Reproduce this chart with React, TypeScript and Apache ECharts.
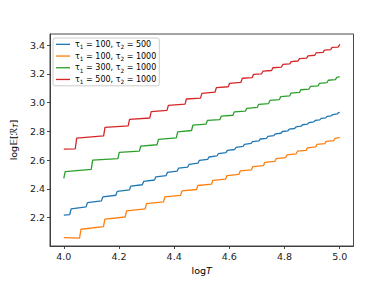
import React, { useEffect, useRef } from "react";
import * as echarts from "echarts";

const xTicks = [4.0, 4.2, 4.4, 4.6, 4.8, 5.0];
const yTicks = [2.2, 2.4, 2.6, 2.8, 3.0, 3.2, 3.4];
const seriesNames = [
  "τ1 = 100, τ2 = 500",
  "τ1 = 100, τ2 = 1000",
  "τ1 = 300, τ2 = 1000",
  "τ1 = 500, τ2 = 1000",
];
const colors = ["#1f77b4", "#ff7f0e", "#2ca02c", "#d62728"];

// log T where each step jumps, level just before and just after each jump
const blueStart = 2.218;
const blueEnd = 2.932;
const blueJumps = [4.0214, 4.0808, 4.1364, 4.1886, 4.2379, 4.2845, 4.3287, 4.3708, 4.411, 4.4493, 4.4861, 4.5213, 4.5552, 4.5878, 4.6193, 4.6496, 4.6789, 4.7073, 4.7347, 4.7613, 4.7872, 4.8122, 4.8366, 4.8603, 4.8834, 4.9059, 4.9278, 4.9492, 4.97, 4.9904];
const blueBefore = [2.222, 2.275, 2.317, 2.356, 2.394, 2.429, 2.462, 2.493, 2.524, 2.552, 2.579, 2.605, 2.629, 2.652, 2.674, 2.695, 2.716, 2.734, 2.752, 2.77, 2.787, 2.804, 2.82, 2.836, 2.851, 2.866, 2.88, 2.894, 2.908, 2.921];
const blueAfter = [2.262, 2.305, 2.345, 2.383, 2.419, 2.452, 2.484, 2.515, 2.544, 2.571, 2.598, 2.622, 2.645, 2.668, 2.689, 2.71, 2.729, 2.747, 2.765, 2.782, 2.799, 2.815, 2.831, 2.846, 2.861, 2.876, 2.89, 2.904, 2.917, 2.93];

const orangeStart = 2.062;
const orangeEnd = 2.758;
const orangeJumps = [4.0571, 4.1438, 4.2225, 4.2947, 4.3614, 4.4233, 4.4811, 4.5353, 4.5863, 4.6345, 4.6801, 4.7235, 4.7648, 4.8042, 4.8419, 4.878, 4.9127, 4.9461, 4.9782];
const orangeBefore = [2.058, 2.138, 2.205, 2.261, 2.31, 2.355, 2.396, 2.433, 2.468, 2.501, 2.533, 2.562, 2.591, 2.618, 2.643, 2.668, 2.692, 2.715, 2.736];
const orangeAfter = [2.12, 2.19, 2.248, 2.298, 2.345, 2.386, 2.424, 2.46, 2.493, 2.525, 2.555, 2.584, 2.611, 2.637, 2.662, 2.686, 2.709, 2.731, 2.752];

const greenStart = 2.473;
const greenEnd = 3.18;
const greenJumps = [4.0, 4.0995, 4.196, 4.274, 4.338, 4.4078, 4.463, 4.5154, 4.566, 4.613, 4.6582, 4.7013, 4.7421, 4.7812, 4.8185, 4.8543, 4.8887, 4.9218, 4.9537, 4.9844];
const greenBefore = [2.473, 2.536, 2.611, 2.663, 2.707, 2.755, 2.806, 2.85, 2.882, 2.912, 2.941, 2.966, 2.993, 3.02, 3.046, 3.071, 3.094, 3.116, 3.138, 3.159];
const greenAfter = [2.52, 2.6, 2.654, 2.698, 2.744, 2.797, 2.844, 2.876, 2.906, 2.936, 2.96, 2.988, 3.015, 3.041, 3.066, 3.089, 3.112, 3.134, 3.155, 3.175];

const redStart = 2.676;
const redEnd = 3.405;
const redJumps = [4.0416, 4.1443, 4.2333, 4.3118, 4.374, 4.4394, 4.4955, 4.548, 4.596, 4.642, 4.6828, 4.7168, 4.753, 4.789, 4.819, 4.849, 4.88, 4.9096, 4.9396, 4.9675, 4.994];
const redBefore = [2.679, 2.768, 2.838, 2.893, 2.946, 2.989, 3.031, 3.072, 3.11, 3.141, 3.174, 3.2, 3.223, 3.247, 3.269, 3.289, 3.309, 3.329, 3.349, 3.368, 3.386];
const redAfter = [2.753, 2.828, 2.884, 2.937, 2.98, 3.025, 3.064, 3.104, 3.134, 3.169, 3.196, 3.218, 3.242, 3.265, 3.285, 3.305, 3.325, 3.345, 3.364, 3.383, 3.4];

const T_START = 4.0;
const T_END = 5.0;
const JUMP_WIDTH = 0.005;

function stairs(start: number, jumps: number[], before: number[], after: number[], end: number) {
  const pts: number[][] = [[T_START, start]];
  jumps.forEach((t, i) => {
    pts.push([t, before[i]]);
    pts.push([Math.min(t + JUMP_WIDTH, T_END), after[i]]);
  });
  pts.push([T_END, end]);
  return pts;
}

const FONT = "DejaVu Sans";

export default function App() {
  const ref = useRef<HTMLDivElement>(null);
  useEffect(() => {
    if (!ref.current) return;
    const chart = echarts.init(ref.current, undefined, { renderer: "svg" });
    const data = [
      stairs(blueStart, blueJumps, blueBefore, blueAfter, blueEnd),
      stairs(orangeStart, orangeJumps, orangeBefore, orangeAfter, orangeEnd),
      stairs(greenStart, greenJumps, greenBefore, greenAfter, greenEnd),
      stairs(redStart, redJumps, redBefore, redAfter, redEnd),
    ];
    chart.setOption({
      animation: false,
      backgroundColor: "#ffffff",
      textStyle: { fontFamily: FONT },
      grid: {
        left: 49.5,
        right: 38.5,
        top: 34,
        bottom: 38,
        show: true,
        borderColor: "#333",
        borderWidth: 0.9,
        backgroundColor: "transparent",
      },
      legend: {
        orient: "vertical",
        left: 53,
        top: 38,
        itemWidth: 14,
        itemHeight: 11.7,
        itemGap: 0,
        icon: "path://M0,0H100V9.5H0Z",
        symbolKeepAspect: true,
        padding: [0.5, 3, 0.5, 3],
        backgroundColor: "rgba(255,255,255,0.8)",
        borderColor: "#cccccc",
        borderWidth: 1,
        borderRadius: 2,
        data: seriesNames.map((n, i) => ({ name: n, itemStyle: { color: colors[i] } })),
        formatter: (name: string) => {
          const m = name.match(/τ1 = (\d+), τ2 = (\d+)/);
          if (!m) return name;
          return `{a|τ}{s|1}{a| = ${m[1]}, τ}{s|2}{a| = ${m[2]}}`;
        },
        textStyle: {
          fontFamily: FONT,
          color: "#000",
          fontSize: 8,
          lineHeight: 11.7,
          rich: {
            a: { fontFamily: FONT, fontSize: 8, lineHeight: 11.7, color: "#000" },
            s: { fontFamily: FONT, fontSize: 5.8, lineHeight: 7.5, verticalAlign: "bottom", color: "#000" },
          },
        },
      },
      xAxis: {
        type: "value",
        min: 3.95,
        max: 5.05,
        name: "{a|log}{i|T}",
        nameLocation: "middle",
        nameGap: 19,
        nameTextStyle: {
          rich: {
            a: { fontFamily: FONT, fontSize: 9.5, color: "#000" },
            i: { fontFamily: FONT, fontSize: 9.5, fontStyle: "italic", color: "#000" },
          },
        },
        axisLine: { show: true, lineStyle: { color: "#333", width: 0.9 } },
        axisTick: { show: true, length: 3, lineStyle: { color: "#333", width: 0.9 }, customValues: xTicks },
        axisLabel: {
          customValues: xTicks,
          margin: 5,
          fontFamily: FONT,
          fontSize: 9.5,
          color: "#222",
          formatter: (v: number) => v.toFixed(1),
        },
        splitLine: { show: false },
      },
      yAxis: {
        type: "value",
        min: 2.0035,
        max: 3.4765,
        name: "{a|log𝔼[ℛ}{s|T}{a|]}",
        nameLocation: "middle",
        nameRotate: 90,
        nameGap: 27,
        nameTextStyle: {
          rich: {
            a: { fontFamily: FONT, fontSize: 9.5, color: "#000", lineHeight: 12 },
            s: { fontFamily: FONT, fontSize: 7, fontStyle: "italic", color: "#000", lineHeight: 8, verticalAlign: "bottom" },
          },
        },
        axisLine: { show: true, lineStyle: { color: "#333", width: 0.9 } },
        axisTick: { show: true, length: 3, lineStyle: { color: "#333", width: 0.9 }, customValues: yTicks },
        axisLabel: {
          customValues: yTicks,
          margin: 5,
          fontFamily: FONT,
          fontSize: 9.5,
          color: "#222",
          formatter: (v: number) => v.toFixed(1),
        },
        splitLine: { show: false },
      },
      series: seriesNames.map((name, i) => ({
        name,
        type: "line",
        data: data[i],
        showSymbol: false,
        symbol: "none",
        lineStyle: { color: colors[i], width: 1.3 },
        itemStyle: { color: colors[i] },
        z: 2,
      })),
    });
    return () => chart.dispose();
  }, []);
  return (
    <div
      ref={ref}
      style={{ position: "fixed", left: 0, top: 0, width: 392, height: 284 }}
    />
  );
}
